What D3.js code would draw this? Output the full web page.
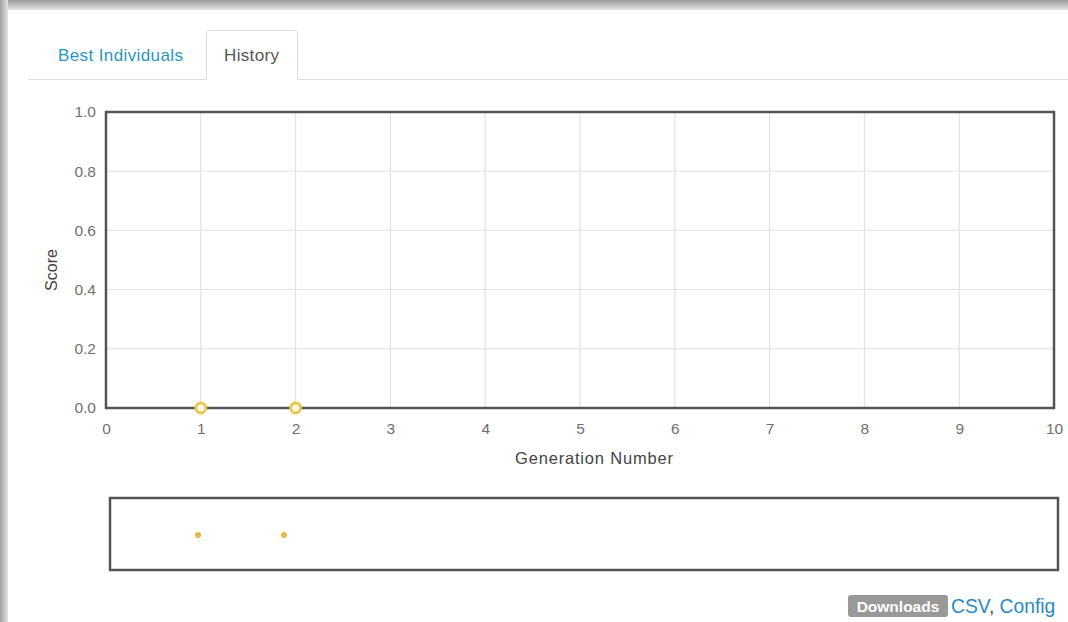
<!DOCTYPE html>
<html><head><meta charset="utf-8">
<script src="https://cdn.jsdelivr.net/npm/d3@7"></script>
<style>
html,body{margin:0;padding:0;background:#fff;}
svg{display:block;}
svg text{font-family:"Liberation Sans",Arial,Helvetica,sans-serif;}
</style></head>
<body>
<svg id="c" width="1068" height="622"></svg>
<script>
const generations = [1, 2];
const scores = [0, 0];
const xTicks = [0,1,2,3,4,5,6,7,8,9,10];
const yTicks = [0,0.2,0.4,0.6,0.8,1.0];
const tabs = ["Best Individuals", "History"];
const downloadLinks = ["CSV", "Config"];
const FF = "Liberation Sans, Arial, Helvetica, sans-serif";

const svg = d3.select("#c");
// window shadow
const defs = svg.append("defs");
const gt = defs.append("linearGradient").attr("id","gt").attr("x1",0).attr("y1",0).attr("x2",0).attr("y2",1);
gt.append("stop").attr("offset","0").attr("stop-color","#9a9a9a");
gt.append("stop").attr("offset","1").attr("stop-color","#e4e4e4");
const gl = defs.append("linearGradient").attr("id","gl").attr("x1",0).attr("y1",0).attr("x2",1).attr("y2",0);
gl.append("stop").attr("offset","0").attr("stop-color","#a0a0a0");
gl.append("stop").attr("offset","1").attr("stop-color","#e4e4e4");
svg.append("rect").attr("x",0).attr("y",0).attr("width",1068).attr("height",10).attr("fill","url(#gt)");
svg.append("rect").attr("x",0).attr("y",0).attr("width",8).attr("height",622).attr("fill","url(#gl)");

// tabs
svg.append("line").attr("x1",28).attr("x2",1068).attr("y1",79.5).attr("y2",79.5).attr("stroke","#ddd");
svg.append("path").attr("d","M206.5,80 V34 Q206.5,30.5 210,30.5 H294 Q297.5,30.5 297.5,34 V80")
  .attr("fill","#fff").attr("stroke","#ddd");
svg.append("text").attr("x",58).attr("y",61).attr("font-family",FF).attr("font-size",17).attr("fill","#2a96bd").attr("textLength",125).text(tabs[0]);
svg.append("text").attr("x",224).attr("y",61).attr("font-family",FF).attr("font-size",17).attr("fill","#555").attr("textLength",55).text(tabs[1]);

// main chart
const x = d3.scaleLinear().domain([0,10]).range([106,1054]);
const y = d3.scaleLinear().domain([0,1]).range([408,112]);

const gridG = svg.append("g");
gridG.selectAll("line.v").data(xTicks.slice(1,-1)).join("line")
  .attr("x1",d=>x(d)).attr("x2",d=>x(d)).attr("y1",y(1)).attr("y2",y(0))
  .attr("stroke","#ddd").attr("stroke-width",1);
gridG.selectAll("line.h").data(yTicks.slice(1,-1)).join("line")
  .attr("x1",x(0)).attr("x2",x(10)).attr("y1",d=>y(d)).attr("y2",d=>y(d))
  .attr("stroke","#e2e2e2").attr("stroke-width",1);

const xAxis = svg.append("g").attr("transform",`translate(0,${y(0)})`)
  .call(d3.axisBottom(x).tickValues(xTicks).tickSize(0).tickPadding(15).tickFormat(d3.format("d")));
xAxis.select(".domain").remove();
xAxis.selectAll("text").attr("fill","#707070").attr("font-family",FF).attr("font-size",15.5);

const yAxis = svg.append("g").attr("transform",`translate(${x(0)},0)`)
  .call(d3.axisLeft(y).tickValues(yTicks).tickSize(0).tickPadding(10).tickFormat(d3.format(".1f")));
yAxis.select(".domain").remove();
yAxis.selectAll("text").attr("fill","#707070").attr("font-family",FF).attr("font-size",15.5);

svg.append("rect").attr("x",x(0)).attr("y",y(1)).attr("width",x(10)-x(0)).attr("height",y(0)-y(1))
  .attr("fill","none").attr("stroke","#555").attr("stroke-width",2.5);

svg.append("text").attr("x",(x(0)+x(10))/2 + 14).attr("y",464).attr("text-anchor","middle")
  .attr("font-family",FF).attr("font-size",16.5).attr("fill","#444").attr("textLength",158).text("Generation Number");
svg.append("text").attr("transform",`translate(57,${(y(0)+y(1))/2 + 10}) rotate(-90)`).attr("text-anchor","middle")
  .attr("font-family",FF).attr("font-size",16).attr("fill","#444").text("Score");

svg.append("g").selectAll("circle").data(generations).join("circle")
  .attr("cx",d=>x(d)).attr("cy",(d,i)=>y(scores[i])).attr("r",5)
  .attr("fill","#fff8e0").attr("stroke","#e6c84e").attr("stroke-width",2.8);

// context chart
const x2 = d3.scaleLinear().domain([0,11]).range([112,1058]);
svg.append("rect").attr("x",110).attr("y",498).attr("width",948).attr("height",72)
  .attr("fill","none").attr("stroke","#555").attr("stroke-width",2.5);
svg.append("g").selectAll("circle").data(generations).join("circle")
  .attr("cx",d=>x2(d)).attr("cy",535).attr("r",3)
  .attr("fill","#e3b94c");

// downloads
svg.append("rect").attr("x",848).attr("y",595).attr("width",100).attr("height",22).attr("rx",3).attr("fill","#999");
svg.append("text").attr("x",898).attr("y",612).attr("text-anchor","middle").attr("font-family",FF).attr("font-size",15.5).attr("font-weight","bold").attr("fill","#fff").text("Downloads");
const dl = svg.append("text").attr("x",951).attr("y",613).attr("font-family",FF).attr("font-size",19.3);
downloadLinks.forEach((t,i)=>{
  if(i>0) dl.append("tspan").attr("fill","#555").text(", ");
  dl.append("tspan").attr("fill","#2a8ac4").text(t);
});
</script>
</body></html>
